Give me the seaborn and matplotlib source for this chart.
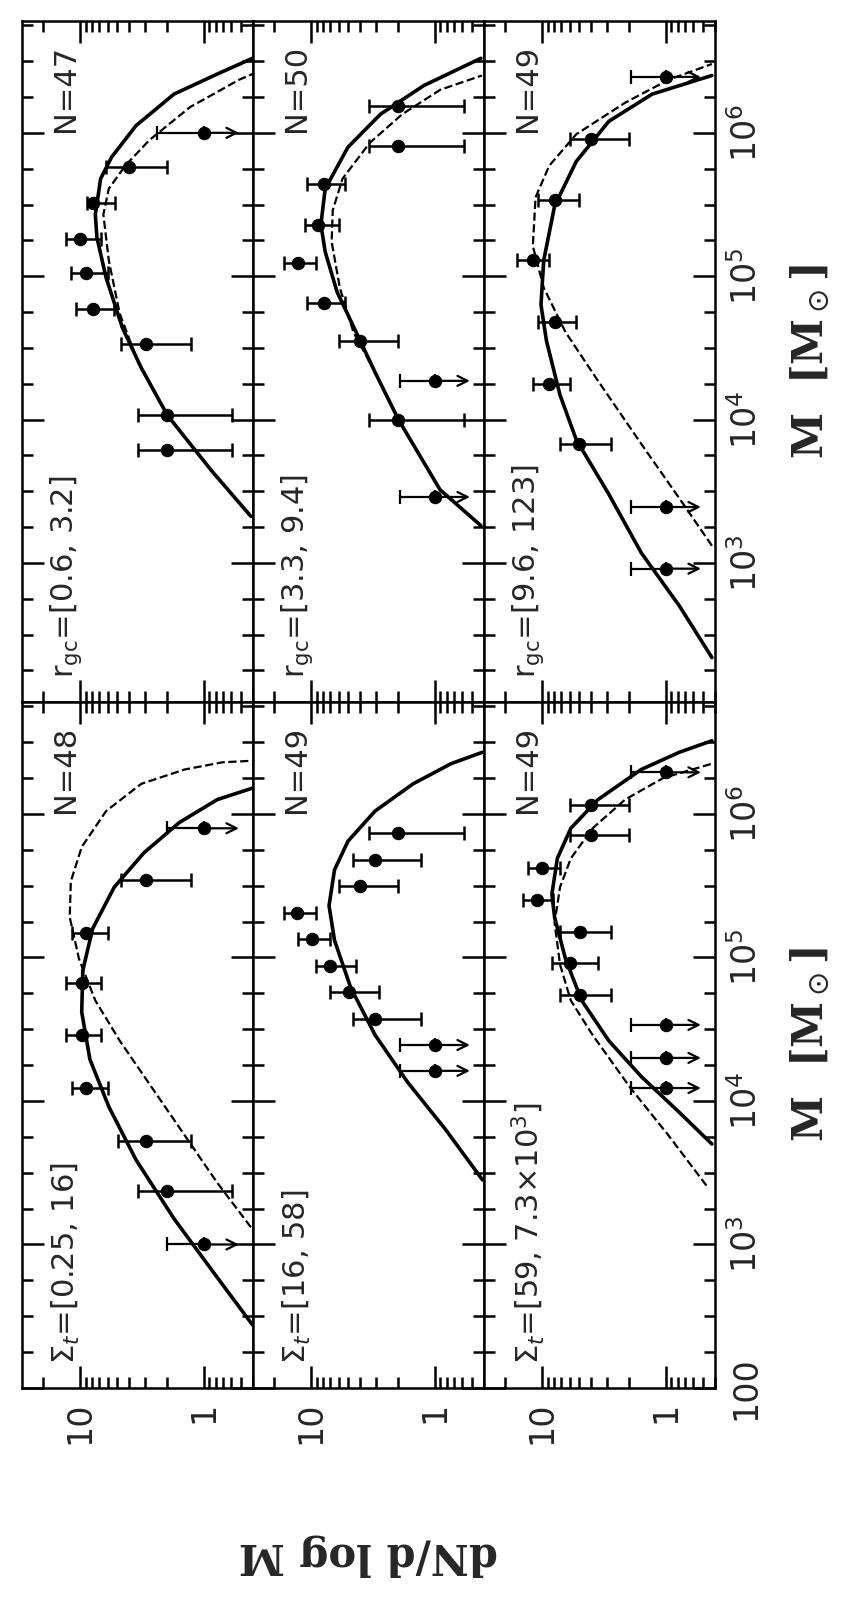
import numpy as np
import matplotlib
matplotlib.use("Agg")
import matplotlib.pyplot as plt
import seaborn as sns
from matplotlib.ticker import FixedLocator, NullFormatter, LogLocator, FixedFormatter

sns.set_theme(style="white")
plt.rcParams['font.family'] = ['DejaVu Sans']
plt.rcParams['mathtext.fontset'] = 'dejavusans'

# ---------------- data (log10 M, dN/dlogM) ----------------
labels_top = [r'$\mathrm{r_{gc}}$=[0.6, 3.2]', r'$\mathrm{r_{gc}}$=[3.3, 9.4]', r'$\mathrm{r_{gc}}$=[9.6, 123]']
labels_bot = [r'$\Sigma_t$=[0.25, 16]', r'$\Sigma_t$=[16, 58]', r'$\Sigma_t$=[59, 7.3$\times$10$^3$]']
n_top = ['N=47', 'N=50', 'N=49']
n_bot = ['N=48', 'N=49', 'N=49']

# top row
A_logM = [3.79, 4.03, 4.53, 4.77, 5.02, 5.26, 5.51, 5.76, 6.00]
A_N    = [2.0, 2.0, 2.95, 7.8, 8.9, 10, 7.8, 4.0, 1.0]
A_lo   = [0.59, 0.59, 1.27, 5.3, 6.0, 6.8, 5.2, 2.0, None]
A_hi   = [3.4, 3.4, 4.7, 10.8, 11.9, 13, 8.8, 6.2, 2.4]
B_logM = [3.46, 4.00, 4.27, 4.55, 4.81, 5.09, 5.36, 5.64, 5.91, 6.19]
B_N    = [1, 1.97, 1, 4.0, 7.9, 12.8, 8.8, 7.9, 1.99, 1.99]
B_lo   = [None, 0.58, None, 1.97, 5.3, 9.2, 6.0, 5.3, 0.58, 0.58]
B_hi   = [1.9, 3.4, 1.9, 5.9, 10.7, 16.5, 11.3, 10.7, 3.4, 3.4]
C_logM = [2.96, 3.39, 3.83, 4.25, 4.68, 5.11, 5.53, 5.96, 6.39]
C_N    = [1, 1, 5.0, 8.8, 7.9, 11.9, 7.9, 4.0, 1]
C_lo   = [None, None, 2.75, 5.9, 5.3, 8.8, 5.0, 2.0, None]
C_hi   = [1.9, 1.9, 7.2, 11.9, 10.7, 16.1, 10.7, 5.9, 1.9]
# bottom row
D_logM = [3.0, 3.37, 3.72, 4.09, 4.46, 4.82, 5.17, 5.54, 5.90]
D_N    = [1, 1.97, 2.95, 9.0, 9.7, 9.7, 9.0, 2.95, 1]
D_lo   = [None, 0.59, 1.26, 6.0, 6.8, 6.8, 6.0, 1.26, None]
D_hi   = [1.97, 3.4, 4.9, 11.6, 12.9, 12.9, 11.6, 4.7, 1.97]
E_logM = [4.21, 4.39, 4.57, 4.76, 4.94, 5.13, 5.31, 5.50, 5.68, 5.87]
E_N    = [1, 1, 3.04, 4.9, 7.0, 9.9, 12.9, 4.0, 3.04, 1.97]
E_lo   = [None, None, 1.29, 2.8, 4.3, 7.0, 9.2, 2.0, 1.29, 0.58]
E_hi   = [1.9, 1.9, 4.55, 7.0, 9.2, 12.8, 16.6, 5.9, 4.55, 3.4]
F_logM = [4.09, 4.30, 4.53, 4.74, 4.96, 5.18, 5.40, 5.62, 5.85, 6.06, 6.29]
F_N    = [1, 1, 1, 4.9, 6.0, 4.9, 11.1, 10.0, 4.0, 4.0, 1]
F_lo   = [None, None, None, 2.75, 3.5, 2.75, 8.2, 7.2, 2.0, 2.0, None]
F_hi   = [1.9, 1.9, 1.9, 7.2, 8.3, 7.2, 14.3, 13.1, 5.9, 5.9, 1.9]

# model curves: (log10 M, log10 dN/dlogM)
A_sol_M = [3.325, 3.64, 4.03, 4.36, 4.64, 4.99, 5.27, 5.43, 5.68, 5.83, 6.05, 6.27, 6.41, 6.52]
A_sol_N = [-0.381, -0.066, 0.294, 0.505, 0.658, 0.79, 0.864, 0.877, 0.834, 0.746, 0.548, 0.241, -0.109, -0.394]
A_das_M = [3.325, 3.64, 4.03, 4.39, 4.74, 5.11, 5.43, 5.61, 5.77, 5.95, 6.18, 6.37, 6.41]
A_das_N = [-0.381, -0.066, 0.294, 0.527, 0.68, 0.768, 0.812, 0.768, 0.636, 0.439, 0.11, -0.285, -0.394]
B_sol_M = [3.26, 3.51, 4.0, 4.33, 4.61, 4.89, 5.17, 5.36, 5.61, 5.9, 6.13, 6.33, 6.52]
B_sol_N = [-0.373, -0.043, 0.294, 0.483, 0.636, 0.79, 0.886, 0.921, 0.886, 0.702, 0.439, 0.088, -0.373]
B_das_M = [3.26, 3.51, 4.0, 4.33, 4.61, 4.92, 5.24, 5.46, 5.68, 5.93, 6.13, 6.30, 6.40]
B_das_N = [-0.373, -0.043, 0.294, 0.483, 0.658, 0.768, 0.834, 0.825, 0.746, 0.526, 0.263, -0.044, -0.381]
C_sol_M = [2.34, 2.70, 3.07, 3.48, 3.86, 4.17, 4.55, 4.8, 5.11, 5.49, 5.8, 6.08, 6.27, 6.40]
C_sol_N = [-0.373, -0.11, 0.198, 0.461, 0.724, 0.855, 0.965, 1.009, 0.987, 0.899, 0.724, 0.461, 0.11, -0.373]
C_das_M = [3.12, 3.45, 3.83, 4.27, 4.61, 4.92, 5.21, 5.55, 5.77, 5.99, 6.21, 6.37, 6.48]
C_das_N = [-0.373, -0.11, 0.198, 0.548, 0.811, 0.987, 1.075, 1.053, 0.943, 0.724, 0.329, -0.022, -0.373]
D_sol_M = [2.44, 2.77, 3.18, 3.59, 3.96, 4.29, 4.62, 4.91, 5.2, 5.49, 5.73, 5.94, 6.10, 6.18]
D_sol_N = [-0.394, -0.109, 0.241, 0.548, 0.768, 0.921, 0.987, 0.978, 0.899, 0.724, 0.483, 0.198, -0.109, -0.394]
D_das_M = [3.12, 3.43, 3.76, 4.09, 4.42, 4.7, 4.99, 5.28, 5.53, 5.77, 6.02, 6.21, 6.31, 6.36, 6.37]
D_das_N = [-0.381, -0.109, 0.154, 0.417, 0.68, 0.877, 1.009, 1.084, 1.075, 0.987, 0.79, 0.505, 0.154, -0.153, -0.381]
E_sol_M = [3.45, 3.80, 4.13, 4.46, 4.79, 5.12, 5.36, 5.61, 5.81, 6.02, 6.21, 6.35, 6.43]
E_sol_N = [-0.386, -0.088, 0.219, 0.483, 0.68, 0.811, 0.855, 0.811, 0.702, 0.483, 0.175, -0.131, -0.386]
F_sol_M = [3.70, 3.92, 4.17, 4.42, 4.70, 4.99, 5.28, 5.44, 5.69, 5.90, 6.10, 6.31, 6.43, 6.51]
F_sol_N = [-0.373, -0.11, 0.198, 0.461, 0.68, 0.811, 0.899, 0.921, 0.877, 0.768, 0.548, 0.198, -0.11, -0.373]
F_das_M = [3.41, 3.76, 4.09, 4.46, 4.70, 4.95, 5.24, 5.49, 5.69, 5.90, 6.10, 6.25, 6.35]
F_das_N = [-0.329, -0.022, 0.285, 0.592, 0.768, 0.855, 0.899, 0.855, 0.768, 0.592, 0.329, 0.022, -0.373]

M_ticks = [2, 3, 4, 5, 6]
M_ticklabels = ['100', r'10$^3$', r'10$^4$', r'10$^5$', r'10$^6$']

panels = [
    (0, 0, labels_top[0], n_top[0], A_logM, A_N, A_lo, A_hi, (A_sol_M, A_sol_N), (A_das_M, A_das_N)),
    (0, 1, labels_top[1], n_top[1], B_logM, B_N, B_lo, B_hi, (B_sol_M, B_sol_N), (B_das_M, B_das_N)),
    (0, 2, labels_top[2], n_top[2], C_logM, C_N, C_lo, C_hi, (C_sol_M, C_sol_N), (C_das_M, C_das_N)),
    (1, 0, labels_bot[0], n_bot[0], D_logM, D_N, D_lo, D_hi, (D_sol_M, D_sol_N), (D_das_M, D_das_N)),
    (1, 1, labels_bot[1], n_bot[1], E_logM, E_N, E_lo, E_hi, (E_sol_M, E_sol_N), None),
    (1, 2, labels_bot[2], n_bot[2], F_logM, F_N, F_lo, F_hi, (F_sol_M, F_sol_N), (F_das_M, F_das_N)),
]

W, H = 852, 1600
fig = plt.figure(figsize=(W / 100, H / 100), dpi=100)
col_left = [22, 253, 484]
col_w = 231
row_top = [21, 702]
row_h = [681, 686]
row_ylim = [(10 ** 2.03, 10 ** 6.78), (100, 10 ** 6.78)]

for (r, c, lab, ntxt, lM, N, lo, hi, sol, das) in panels:
    x0 = col_left[c] / W
    y0 = 1 - (row_top[r] + row_h[r]) / H
    ax = fig.add_axes([x0, y0, col_w / W, row_h[r] / H])
    ax.set_xscale('log')
    ax.set_yscale('log')
    ax.set_xlim(29.5, 0.4)
    ax.set_ylim(*row_ylim[r])

    sns.lineplot(x=10 ** np.array(sol[1]), y=10 ** np.array(sol[0]), sort=False,
                 estimator=None, color='black', lw=2.6, ax=ax)
    if das is not None:
        sns.lineplot(x=10 ** np.array(das[1]), y=10 ** np.array(das[0]), sort=False,
                     estimator=None, color='black', lw=1.6, ax=ax, dashes=(6, 4.5),
                     linestyle='--')

    M = 10 ** np.array(lM)
    Narr = np.array(N, dtype=float)
    det = [i for i in range(len(N)) if lo[i] is not None]
    ul = [i for i in range(len(N)) if lo[i] is None]
    if det:
        xerr = [[Narr[i] - lo[i] for i in det], [hi[i] - Narr[i] for i in det]]
        ax.errorbar(Narr[det], M[det], xerr=xerr, fmt='none', ecolor='black',
                    elinewidth=1.8, capsize=5, capthick=1.8)
    for i in ul:
        ax.errorbar([Narr[i]], [M[i]], xerr=[[0], [hi[i] - Narr[i]]], fmt='none',
                    ecolor='black', elinewidth=1.6, capsize=5, capthick=1.6)
        ax.annotate('', xy=(0.52, M[i]), xytext=(Narr[i], M[i]),
                    arrowprops=dict(arrowstyle='->', lw=1.6, color='black',
                                    mutation_scale=18, shrinkA=0, shrinkB=0))
    sns.scatterplot(x=Narr, y=M, color='black', s=80, ax=ax, zorder=5, edgecolor='black')

    # ticks
    ax.yaxis.set_major_locator(FixedLocator([10.0 ** t for t in M_ticks]))
    ax.yaxis.set_minor_locator(FixedLocator([10.0 ** (2 + 0.25 * k) for k in range(20) if k % 4 != 0]))
    ax.yaxis.set_major_formatter(FixedFormatter(M_ticklabels))
    ax.yaxis.set_minor_formatter(NullFormatter())
    ax.xaxis.set_major_locator(FixedLocator([1, 10]))
    ax.xaxis.set_minor_locator(LogLocator(base=10, subs=np.arange(2, 10)))
    ax.xaxis.set_major_formatter(FixedFormatter(['1', '10']))
    ax.xaxis.set_minor_formatter(NullFormatter())
    ax.tick_params(which='both', direction='in', top=True, bottom=True, left=True, right=True,
                   width=1.8, color='black', labelsize=24)
    ax.tick_params(which='major', length=16)
    ax.tick_params(which='minor', length=8)
    ax.tick_params(axis='y', labelleft=False, labelright=(c == 2), labelrotation=90, pad=10)
    ax.tick_params(axis='x', labelbottom=(r == 1), labelrotation=90, pad=10)
    for t in ax.get_yticklabels():
        t.set_va('center')
    for sp in ax.spines.values():
        sp.set_color('black')
        sp.set_linewidth(1.8)
    ax.set_xlabel('')
    ax.set_ylabel('')

    ax.text(0.19, 0.035, lab, transform=ax.transAxes, rotation=90, ha='center',
            va='bottom', fontsize=22)
    ax.text(0.19, 0.965, ntxt, transform=ax.transAxes, rotation=90, ha='center',
            va='top', fontsize=22)

for r in range(2):
    yc = 1 - (row_top[r] + row_h[r] / 2) / H
    fig.text(810 / W, yc, r'M  [M$_\odot$]', rotation=90, ha='center', va='center',
             fontsize=30, fontweight='bold', family='DejaVu Serif')
fig.text(368 / W, 1 - 1555 / H, 'dN/d log M', rotation=180, ha='center', va='center',
         fontsize=30, fontweight='bold', family='DejaVu Serif')

fig.savefig('out.png', dpi=100, facecolor='white')
